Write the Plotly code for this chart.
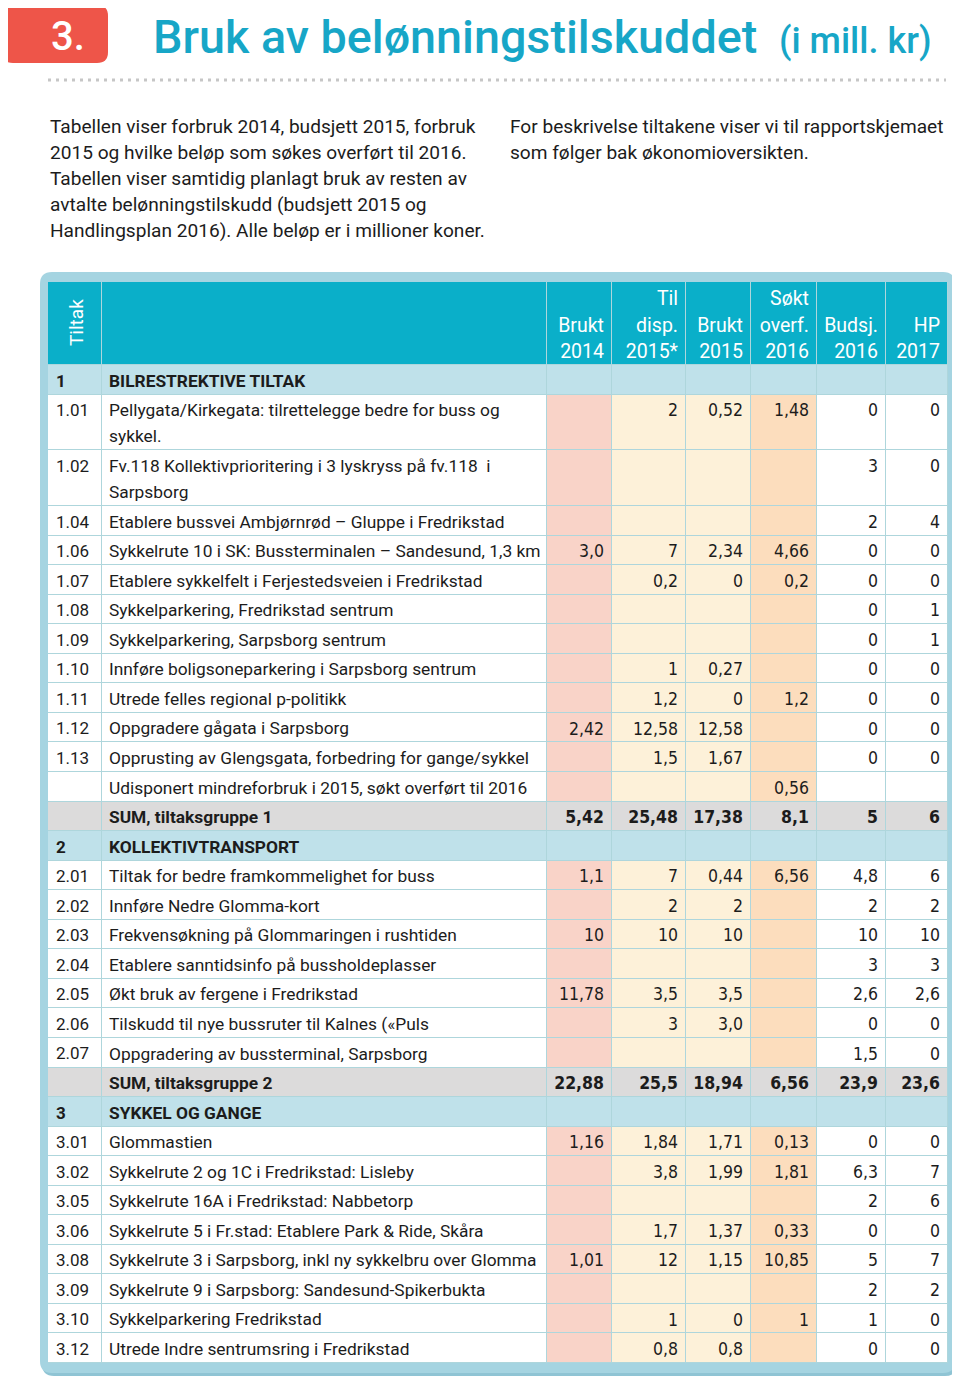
import plotly.graph_objects as go

# ---------------- data ----------------
COL_HEADERS = ["Tiltak", "", "Brukt<br>2014", "Til<br>disp.<br>2015*", "Brukt<br>2015",
               "Søkt<br>overf.<br>2016", "Budsj.<br>2016", "HP<br>2017"]

ROW_TYPE = (["group"] + ["item"] * 12 + ["sum"] +
            ["group"] + ["item"] * 7 + ["sum"] +
            ["group"] + ["item"] * 8)

IDS = ["1", "1.01", "1.02", "1.04", "1.06", "1.07", "1.08", "1.09", "1.10", "1.11", "1.12", "1.13", "", "",
       "2", "2.01", "2.02", "2.03", "2.04", "2.05", "2.06", "2.07", "",
       "3", "3.01", "3.02", "3.05", "3.06", "3.08", "3.09", "3.10", "3.12"]

DESCRIPTIONS = [
    "BILRESTREKTIVE TILTAK",
    "Pellygata/Kirkegata: tilrettelegge bedre for buss og<br>sykkel.",
    "Fv.118 Kollektivprioritering i 3 lyskryss på fv.118  i<br>Sarpsborg",
    "Etablere bussvei Ambjørnrød – Gluppe i Fredrikstad",
    "Sykkelrute 10 i SK: Bussterminalen – Sandesund, 1,3 km",
    "Etablere sykkelfelt i Ferjestedsveien i Fredrikstad",
    "Sykkelparkering, Fredrikstad sentrum",
    "Sykkelparkering, Sarpsborg sentrum",
    "Innføre boligsoneparkering i Sarpsborg sentrum",
    "Utrede felles regional p-politikk",
    "Oppgradere gågata i Sarpsborg",
    "Opprusting av Glengsgata, forbedring for gange/sykkel",
    "Udisponert mindreforbruk i 2015, søkt overført til 2016",
    "SUM, tiltaksgruppe 1",
    "KOLLEKTIVTRANSPORT",
    "Tiltak for bedre framkommelighet for buss",
    "Innføre Nedre Glomma-kort",
    "Frekvensøkning på Glommaringen i rushtiden",
    "Etablere sanntidsinfo på bussholdeplasser",
    "Økt bruk av fergene i Fredrikstad",
    "Tilskudd til nye bussruter til Kalnes («Puls",
    "Oppgradering av bussterminal, Sarpsborg",
    "SUM, tiltaksgruppe 2",
    "SYKKEL OG GANGE",
    "Glommastien",
    "Sykkelrute 2 og 1C i Fredrikstad: Lisleby",
    "Sykkelrute 16A i Fredrikstad: Nabbetorp",
    "Sykkelrute 5 i Fr.stad: Etablere Park & Ride, Skåra",
    "Sykkelrute 3 i Sarpsborg, inkl ny sykkelbru over Glomma",
    "Sykkelrute 9 i Sarpsborg: Sandesund-Spikerbukta",
    "Sykkelparkering Fredrikstad",
    "Utrede Indre sentrumsring i Fredrikstad",
]

BRUKT_2014 = ["", "", "", "", "3,0", "", "", "", "", "", "2,42", "", "", "5,42",
              "", "1,1", "", "10", "", "11,78", "", "", "22,88",
              "", "1,16", "", "", "", "1,01", "", "", ""]
TIL_DISP_2015 = ["", "2", "", "", "7", "0,2", "", "", "1", "1,2", "12,58", "1,5", "", "25,48",
                 "", "7", "2", "10", "", "3,5", "3", "", "25,5",
                 "", "1,84", "3,8", "", "1,7", "12", "", "1", "0,8"]
BRUKT_2015 = ["", "0,52", "", "", "2,34", "0", "", "", "0,27", "0", "12,58", "1,67", "", "17,38",
              "", "0,44", "2", "10", "", "3,5", "3,0", "", "18,94",
              "", "1,71", "1,99", "", "1,37", "1,15", "", "0", "0,8"]
SOKT_OVERF_2016 = ["", "1,48", "", "", "4,66", "0,2", "", "", "", "1,2", "", "", "0,56", "8,1",
                   "", "6,56", "", "", "", "", "", "", "6,56",
                   "", "0,13", "1,81", "", "0,33", "10,85", "", "1", ""]
BUDSJ_2016 = ["", "0", "3", "2", "0", "0", "0", "0", "0", "0", "0", "0", "", "5",
              "", "4,8", "2", "10", "3", "2,6", "0", "1,5", "23,9",
              "", "0", "6,3", "2", "0", "5", "2", "1", "0"]
HP_2017 = ["", "0", "0", "4", "0", "0", "1", "1", "0", "0", "0", "0", "", "6",
           "", "6", "2", "10", "3", "2,6", "0", "0", "23,6",
           "", "0", "7", "6", "0", "7", "2", "0", "0"]

TITLE = "Bruk av belønningstilskuddet"
SUBTITLE = "(i mill. kr)"
BADGE = "3."
LEFT_TEXT = ["Tabellen viser forbruk 2014, budsjett 2015, forbruk",
             "2015 og hvilke beløp som søkes overført til 2016.",
             "Tabellen viser samtidig planlagt bruk av resten av",
             "avtalte belønningstilskudd (budsjett 2015 og",
             "Handlingsplan 2016). Alle beløp er i millioner koner."]
RIGHT_TEXT = ["For beskrivelse tiltakene viser vi til rapportskjemaet",
              "som følger bak økonomioversikten."]

# ---------------- layout / style ----------------
W, H = 960, 1382
PAGE_OFFSET = 8          # default body margin of the html page
COL_EDGES = [48, 102, 547, 612, 686, 751, 817, 886, 948]
TABLE_TOP = 282
HEADER_H = 83
ROW_H = 29.55
LINE_H = 26.2
HEAD_LINE_H = 26.5
TEXT_DY = 2.5

C_HEADER = "#0aafc9"
C_GROUP = "#bfe1ea"
C_SUM = "#dcdbdb"
C_PINK = "#f9d3c8"
C_CREAM = "#fdf1d9"
C_ORANGE = "#fcddbd"
C_WHITE = "#ffffff"
C_GRID = "#aed6dc"
C_FRAME = "#a5d4e1"
C_TEXT = "#1c1c1c"
C_TITLE = "#17a6c7"
C_BADGE = "#ee5549"

TEXT_FONT = "Roboto"
NUM_FONT = "DejaVu Sans Condensed, DejaVu Sans, sans-serif"

numeric_cols = [BRUKT_2014, TIL_DISP_2015, BRUKT_2015, SOKT_OVERF_2016, BUDSJ_2016, HP_2017]
item_col_color = [0, 0, 4, 5, 5, 6, 0, 0]   # category index per column for item rows
palette = [C_WHITE, C_HEADER, C_GROUP, C_SUM, C_PINK, C_CREAM, C_ORANGE]
colorscale = [[i / (len(palette) - 1), c] for i, c in enumerate(palette)]

# row geometry derived from number of text lines per row
n_lines = [max(1, len(d.split("<br>"))) for d in DESCRIPTIONS]
y_edges = [TABLE_TOP, TABLE_TOP + HEADER_H]
for n in n_lines:
    y_edges.append(y_edges[-1] + ROW_H + (n - 1) * LINE_H)
TABLE_BOTTOM = y_edges[-1]

z = [[1] * 8]
for rt in ROW_TYPE:
    if rt == "group":
        z.append([2] * 8)
    elif rt == "sum":
        z.append([3] * 8)
    else:
        z.append(list(item_col_color))

fig = go.Figure()
fig.add_trace(go.Heatmap(x=COL_EDGES, y=y_edges, z=z, colorscale=colorscale, zmin=0,
                         zmax=len(palette) - 1, showscale=False, xgap=1, ygap=1,
                         hoverinfo="skip"))


def bold(s, rt):
    return f"<b>{s}</b>" if (rt in ("group", "sum") and s) else s


def add_text(xs, ys, texts, pos, family, size, color):
    fig.add_trace(go.Scatter(x=xs, y=ys, text=texts, mode="text", textposition=pos,
                             textfont=dict(family=family, size=size, color=color),
                             hoverinfo="skip", showlegend=False, cliponaxis=False))


# id and description columns
for col_idx, values in ((0, IDS), (1, DESCRIPTIONS)):
    xs, ys, ts = [], [], []
    for r, v in enumerate(values):
        if not v:
            continue
        for i, line in enumerate(v.split("<br>")):
            xs.append(COL_EDGES[col_idx] + (8 if col_idx == 0 else 7))
            ys.append(y_edges[r + 1] + ROW_H / 2 + i * LINE_H + TEXT_DY)
            ts.append(bold(line, ROW_TYPE[r]))
    add_text(xs, ys, ts, "middle right", TEXT_FONT, 17 if col_idx == 0 else 17.35, C_TEXT)

# numeric columns
for k, values in enumerate(numeric_cols):
    c = k + 2
    xs, ys, ts = [], [], []
    for r, v in enumerate(values):
        if not v:
            continue
        xs.append(COL_EDGES[c + 1] - 8)
        ys.append(y_edges[r + 1] + ROW_H / 2 + TEXT_DY)
        ts.append(bold(v, ROW_TYPE[r]))
    add_text(xs, ys, ts, "middle left", NUM_FONT, 17.5, C_TEXT)

# header labels (bottom aligned)
xs, ys, ts = [], [], []
for c in range(2, 8):
    lines = COL_HEADERS[c].split("<br>")
    for i, line in enumerate(lines):
        xs.append(COL_EDGES[c + 1] - 8)
        ys.append(TABLE_TOP + HEADER_H - 14 - (len(lines) - 1 - i) * HEAD_LINE_H + TEXT_DY)
        ts.append(line)
add_text(xs, ys, ts, "middle left", TEXT_FONT, 19.5, "white")


def rounded_rect(x0, y0, x1, y1, r):
    return (f"M{x0 + r},{y0} L{x1 - r},{y0} Q{x1},{y0} {x1},{y0 + r} "
            f"L{x1},{y1 - r} Q{x1},{y1} {x1 - r},{y1} L{x0 + r},{y1} "
            f"Q{x0},{y1} {x0},{y1 - r} L{x0},{y0 + r} Q{x0},{y0} {x0 + r},{y0} Z")


shapes = [
    dict(type="path", path=rounded_rect(42, 274, 957, 1376, 12), xref="x", yref="y",
         fillcolor="#8fc4d4", line=dict(width=0), layer="below"),
    dict(type="path", path=rounded_rect(40, 272, 955, 1373, 12), xref="x", yref="y",
         fillcolor=C_FRAME, line=dict(width=0), layer="below"),
    dict(type="rect", x0=COL_EDGES[0], x1=COL_EDGES[-1], y0=TABLE_TOP, y1=TABLE_BOTTOM,
         xref="x", yref="y", fillcolor=C_GRID, line=dict(width=0), layer="below"),
    dict(type="path", path=rounded_rect(2, 5, 108, 63, 11), xref="x", yref="y",
         fillcolor=C_BADGE, line=dict(width=0), layer="below"),
    dict(type="line", x0=48, x1=946, y0=80, y1=80, xref="x", yref="y",
         line=dict(color="#c6c6c6", width=3, dash="3px,5px"), layer="below"),
]

annotations = [
    dict(x=68, y=36, text=BADGE, showarrow=False, xanchor="center", yanchor="middle",
         font=dict(family=TEXT_FONT, size=40, color="white", weight=500)),
    dict(x=151, y=37, text=TITLE, showarrow=False, xanchor="left", yanchor="middle",
         font=dict(family=TEXT_FONT, size=46.7, color=C_TITLE, weight=500)),
    dict(x=777, y=41, text=SUBTITLE, showarrow=False, xanchor="left", yanchor="middle",
         font=dict(family=TEXT_FONT, size=36, color=C_TITLE, weight=500)),
    dict(x=76, y=TABLE_TOP + 41, text=COL_HEADERS[0], showarrow=False, textangle=-90,
         xanchor="center", yanchor="middle",
         font=dict(family=TEXT_FONT, size=19, color="white")),
]
for i, line in enumerate(LEFT_TEXT):
    annotations.append(dict(x=48, y=126 + i * 26.2, text=line, showarrow=False,
                            xanchor="left", yanchor="middle",
                            font=dict(family=TEXT_FONT, size=19.1, color=C_TEXT)))
for i, line in enumerate(RIGHT_TEXT):
    annotations.append(dict(x=508, y=126 + i * 26.2, text=line, showarrow=False,
                            xanchor="left", yanchor="middle",
                            font=dict(family=TEXT_FONT, size=19.1, color=C_TEXT)))

fig.update_layout(
    width=W, height=H, margin=dict(l=0, r=0, t=0, b=0),
    paper_bgcolor="white", plot_bgcolor="white", showlegend=False,
    xaxis=dict(range=[PAGE_OFFSET, W + PAGE_OFFSET], visible=False, fixedrange=True),
    yaxis=dict(range=[H + PAGE_OFFSET, PAGE_OFFSET], visible=False, fixedrange=True),
    shapes=shapes, annotations=annotations,
)

fig.write_html("out.html")
